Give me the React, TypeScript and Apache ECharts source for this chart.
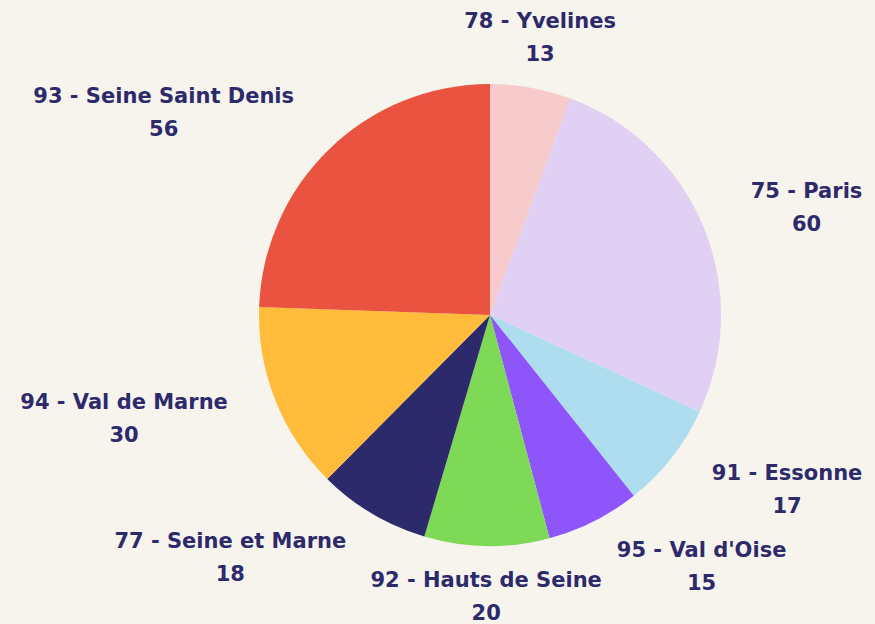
import React, { useEffect, useRef } from "react";
import * as echarts from "echarts";

const names = [
  "78 - Yvelines",
  "75 - Paris",
  "91 - Essonne",
  "95 - Val d'Oise",
  "92 - Hauts de Seine",
  "77 - Seine et Marne",
  "94 - Val de Marne",
  "93 - Seine Saint Denis",
];
const values = [13, 60, 17, 15, 20, 18, 30, 56];
const colors = [
  "#F7CACB",
  "#E0D0F4",
  "#AEDDF0",
  "#8E55FB",
  "#7ED957",
  "#2D2A6B",
  "#FFBC3A",
  "#E9533F",
];

const BG = "#F7F4EE";
const TEXT = "#2D2A6B";
const FONT = "DejaVu Sans";

export default function App() {
  const ref = useRef<HTMLDivElement>(null);
  useEffect(() => {
    document.body.style.margin = "0";
    document.body.style.background = BG;
    const chart = echarts.init(ref.current!, null, { renderer: "svg" });
    const total = values.reduce((a, b) => a + b, 0);
    const mids: number[] = [];
    let acc = 0;
    values.forEach((v) => {
      mids.push(((acc + v / 2) / total) * Math.PI * 2);
      acc += v;
    });
    const textStyle = {
      fontFamily: FONT,
      fontWeight: "bold" as any,
      fontSize: 21,
      color: TEXT,
      lineHeight: 33,
      align: "center" as const,
    };
    chart.setOption({
      animation: false,
      backgroundColor: BG,
      series: [
        {
          type: "pie",
          center: [490, 315],
          radius: 231,
          startAngle: 90,
          clockwise: true,
          avoidLabelOverlap: false,
          data: names.map((n, i) => ({
            name: n,
            value: values[i],
            itemStyle: { color: colors[i] },
          })),
          label: {
            show: true,
            position: "outside",
            distanceToLabelLine: 0,
            formatter: "{n|{b}}\n{v|{c}}",
            ...textStyle,
            rich: { n: { ...textStyle }, v: { ...textStyle } },
          },
          labelLine: { show: false, length: 51, length2: 0 },
          labelLayout: (p: any) => {
            const vx = Math.sin(mids[p.dataIndex]);
            if (Math.abs(vx) < 0.2) {
              const r = p.labelRect;
              const ax = p.align === "left" ? r.x : r.x + r.width;
              return { x: ax, y: r.y + r.height / 2, align: "center", verticalAlign: "middle" };
            }
            return {};
          },
        },
      ],
    });
    return () => chart.dispose();
  }, []);
  return <div ref={ref} style={{ width: 875, height: 624 }} />;
}
